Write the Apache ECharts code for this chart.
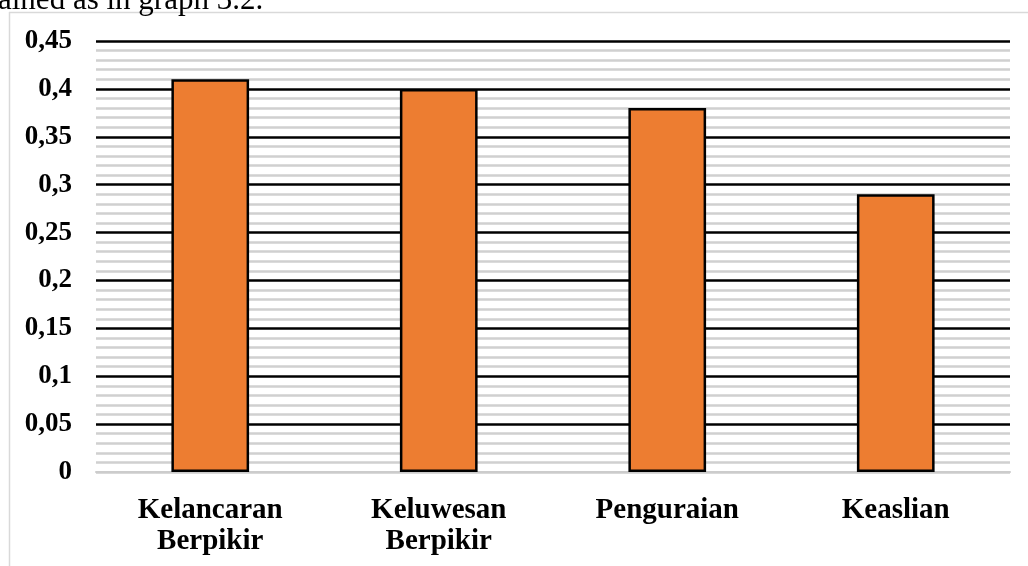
<!DOCTYPE html>
<html>
<head>
<meta charset="utf-8">
<script src="https://cdn.jsdelivr.net/npm/echarts@6/dist/echarts.min.js"></script>
<style>
html,body{margin:0;padding:0;background:#fff;}
#chart{width:1028px;height:566px;}
</style>
</head>
<body>
<div id="chart"></div>
<script>
var categories = ['Kelancaran\nBerpikir', 'Keluwesan\nBerpikir', 'Penguraian', 'Keaslian'];
var values = [0.41, 0.40, 0.38, 0.29];
var yTicks = ['0', '0,05', '0,1', '0,15', '0,2', '0,25', '0,3', '0,35', '0,4', '0,45'];

var chart = echarts.init(document.getElementById('chart'), null, {renderer: 'canvas'});
var splitColors = yTicks.map(function (t, i) { return i === 0 ? '#cccccc' : '#000000'; });

chart.setOption({
  animation: false,
  backgroundColor: '#ffffff',
  grid: {left: 96, right: 18, top: 41, bottom: 94, containLabel: false},
  graphic: [
    {type: 'line', shape: {x1: 9, y1: 12.5, x2: 1028, y2: 12.5}, style: {stroke: '#d9d9d9', lineWidth: 1.5}, z: -1},
    {type: 'line', shape: {x1: 9.5, y1: 12, x2: 9.5, y2: 566}, style: {stroke: '#d9d9d9', lineWidth: 1.5}, z: -1},
    {type: 'text', left: -2, top: -15, style: {text: 'ained as in graph 3.2.', font: '31px "Liberation Serif"', fill: '#000'}}
  ],
  xAxis: {
    type: 'category',
    data: categories,
    axisLine: {show: true, lineStyle: {color: '#cccccc', width: 2}},
    axisTick: {show: false},
    axisLabel: {
      color: '#000', fontFamily: 'Liberation Serif', fontWeight: 'bold', fontSize: 29,
      lineHeight: 31, margin: 23, interval: 0
    }
  },
  yAxis: {
    type: 'value',
    min: 0, max: 0.45, interval: 0.05,
    axisLine: {show: false},
    axisTick: {show: false},
    axisLabel: {
      color: '#000', fontFamily: 'Liberation Serif', fontWeight: 'bold', fontSize: 27, margin: 24,
      formatter: function (v) { return yTicks[Math.round(v / 0.05)]; }
    },
    splitLine: {show: true, lineStyle: {color: splitColors, width: 2.5}},
    minorTick: {show: false, splitNumber: 5},
    minorSplitLine: {show: true, lineStyle: {color: '#d0d0d0', width: 2.5}}
  },
  series: [{
    type: 'bar',
    data: values,
    barWidth: '34%',
    itemStyle: {color: '#ED7D31', borderColor: '#000', borderWidth: 2.5},
    z: 5
  }]
});
</script>
</body>
</html>
